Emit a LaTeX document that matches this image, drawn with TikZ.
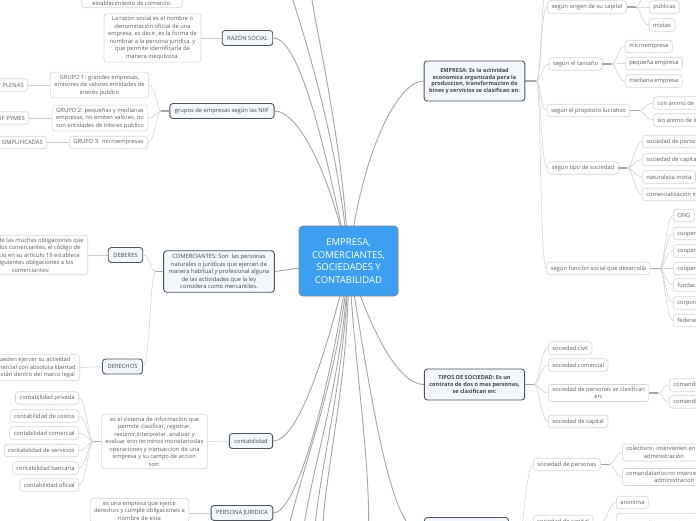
\documentclass[tikz,border=0pt]{standalone}
\usepackage{fontspec}
\setmainfont{Open Sans}
\usepackage{tikz}
\pgfdeclarelayer{back}
\pgfsetlayers{back,main}

\definecolor{rootfill}{HTML}{3C9FF0}
\definecolor{rootline}{HTML}{7C8894}
\definecolor{topicfill}{HTML}{F2F7FD}
\definecolor{topicline}{HTML}{4E545A}
\definecolor{leafline}{HTML}{D4D4D4}
\definecolor{inktext}{HTML}{474747}
\definecolor{leaftext}{HTML}{5E5E5E}
\definecolor{linkgray}{HTML}{A6A6A6}
\definecolor{twiggray}{HTML}{CDCDCD}

\tikzset{
  root/.style={draw=rootline, line width=0.8pt, fill=rootfill, rounded corners=4pt,
    text=white, align=center, font=\fontsize{9.5}{12.7}\selectfont,
    minimum width=99pt, minimum height=70pt, inner sep=0pt},
  topic/.style={draw=topicline, line width=0.9pt, fill=topicfill, rounded corners=3pt,
    text=inktext, align=center, font=\fontsize{5.8}{7.5}\selectfont,
    minimum height=15pt, inner xsep=5pt, inner ysep=3.5pt},
  bold topic/.style={topic, font=\fontsize{5.6}{6.8}\selectfont\bfseries,
    minimum width=99pt},
  leaf/.style={draw=leafline, line width=0.6pt, fill=white, rounded corners=3pt,
    text=leaftext, align=center, font=\fontsize{5.8}{7.5}\selectfont,
    minimum height=12.5pt, inner xsep=4pt, inner ysep=2.5pt},
  link/.style={draw=linkgray, line width=0.9pt},
  twig/.style={draw=twiggray, line width=0.5pt},
  stub/.style={draw=linkgray, line width=1.3pt},
  fan right/.style={out=0, in=180, out distance=5pt, in distance=7pt},
  fan left/.style={out=180, in=0, out distance=5pt, in distance=7pt}
}

\begin{document}
\begin{tikzpicture}[x=1pt, y=-1pt]
\useasboundingbox (0,0) rectangle (696,520);
\begin{pgfonlayer}{back}
  \fill[white] (0,0) rectangle (696,520);
\end{pgfonlayer}
\clip (0,0) rectangle (696,520);

% central topic
\node[root] (root) at (348.5,261) {EMPRESA,\\COMERCIANTES,\\SOCIEDADES Y\\CONTABILIDAD};

% ---- left side
\node[leaf, anchor=south, minimum width=100pt] (estab) at (132,8) {\strut\\ \strut\\ establecimiento de comercio.};

\node[topic] (razon) at (247.5,38) {RAZÓN SOCIAL};
\node[leaf] (razonTxt) at (152.5,38) {La razón social es el nombre o\\denominación oficial de una\\empresa, es decir, es la forma de\\nombrar a la persona jurídica, y\\que permite identificarla de\\manera inequívoca.};

\node[topic] (grupos) at (222,111) {grupos de empresas según las NIIF};
\node[leaf] (g1) at (99.5,85) {GRUPO 1: grandes empresas,\\emisores de valores entidades de\\interés publico};
\node[leaf] (g2) at (100,118) {GRUPO 2: pequeñas y medianas\\empresas, no emiten valores, no\\son entidades de interes publico};
\node[leaf] (g3) at (108.5,142.5) {GRUPO 3: microempresas};
\node[leaf, anchor=east] (niif1) at (28,85) {NIIF PLENAS};
\node[leaf, anchor=east] (niif2) at (29,118) {NIIF PYMES};
\node[leaf, anchor=east] (niif3) at (47,142.5) {NIIF SIMPLIFICADAS};

\node[topic] (comer) at (219,271.5) {COMERCIANTES: Son \ las personas\\naturales o jurídicas que ejercen de\\manera habitual y profesional alguna\\de las actividades que la ley\\considera como mercantiles.};
\node[topic] (deberes) at (125.5,255) {DEBERES};
\node[leaf, anchor=east] (deberesTxt) at (88,255) {Dentro de las muchas obligaciones que\\tienen los comerciantes, el código de\\comercio en su artículo 19 establece\\las siguientes obligaciones a los\\comerciantes:};
\node[topic] (derechos) at (122.5,366.5) {DERECHOS};
\node[leaf, anchor=east] (derechosTxt) at (80,367.5) {Pueden ejercer su actividad\\comercial con absoluta libertad\\si están dentro del marco legal};

\node[topic] (conta) at (251,441) {contabilidad};
\node[leaf] (contaTxt) at (154.5,441.5) {es el sistema de informacion que\\permite clasificar, registrar,\\resumir,interpretar, analizar y\\evaluar enn terminos monetarioslas\\operaciones y transaccion de una\\empresa y su campo de accion\\son:};
\foreach \name/\y/\txt in {cPriv/398/contabilidad privada, cCost/416/contabilidad de costos,
    cCom/433/contabilidad comercial, cServ/450.5/contabilidad de servicios,
    cBanc/468/contabilidad bancaria, cOfic/485/contabilidad oficial}
  \node[leaf, anchor=east] (\name) at (79,\y) {\txt};

\node[topic] (persona) at (242,513) {PERSONA JURIDICA};
\node[leaf, anchor=north] (personaTxt) at (139.5,498) {es una empresa que ejerce\\derechos y cumple obligaciones a\\nombre de esta};

% ---- right side
\node[bold topic, minimum height=40pt] (empresa) at (474.5,81) {EMPRESA: Es la actividad\\economica organizada para la\\produccion, transformacion de\\bines y servicios se clasifican en:};
\node[leaf] (origen) at (587,7) {según origen de su capital};
\node[leaf] (publicas) at (664.5,7) {publicas};
\node[leaf] (mixtas) at (662,25) {mixtas};
\node[leaf] (tamano) at (575.5,64) {según el tamaño};
\node[leaf, anchor=west] (micro) at (625,46.5) {microempresa};
\node[leaf, anchor=west] (pequena) at (625,63.5) {pequeña empresa};
\node[leaf, anchor=west] (mediana) at (625,81) {mediana empresa};
\node[leaf] (proposito) at (588.5,110.5) {según el propósito lucrativo};
\node[leaf, anchor=west] (conAnimo) at (653,103) {con animo de lucro};
\node[leaf, anchor=west] (sinAnimo) at (653,120) {sin animo de lucro};
\node[leaf] (tipo) at (583,168) {según tipo de sociedad};
\foreach \name/\y/\txt in {tPer/141.5/sociedad de personas, tCap/159.5/sociedad de capital,
    tMix/177/naturaleza mixta, tInt/194.5/comercialización internacional}
  \node[leaf, anchor=west] (\name) at (642,\y) {\txt};
\node[leaf] (funcion) at (598.5,268.5) {según función social que desarrolla};
\foreach \name/\y/\txt in {fOng/215.5/ONG, fCoopA/233.5/cooperativas de trabajo asociado,
    fCoopB/251/cooperativas multiactivas, fCoopC/268.5/cooperativas de ahorro y crédito,
    fFund/285/fundaciones, fCorp/303/corporaciones, fFed/320.5/federaciones}
  \node[leaf, anchor=west] (\name) at (673,\y) {\txt};

\node[bold topic, minimum height=31pt] (tipos) at (474.5,384.5) {TIPOS DE SOCIEDAD: Es un\\contrato de dos o mas personas,\\se clasifican en:};
\node[leaf, anchor=west] (civil) at (548,348) {sociedad civil};
\node[leaf, anchor=west] (comercial) at (548,365) {sociedad comercial};
\node[leaf, anchor=west] (sPer) at (548,393) {sociedad de personas se clasifican\\en:};
\node[leaf, anchor=west] (sCap) at (548,421.5) {sociedad de capital};
\node[leaf, anchor=west] (comSimple) at (669,385) {comanditaria simple};
\node[leaf, anchor=west] (comAcc) at (669,402) {comanditaria por acciones};

\node[topic, anchor=north west, minimum width=84pt, minimum height=34pt] (clases) at (424,517) {};
\node[leaf, anchor=west] (bPer) at (533,464.5) {sociedad de personas};
\node[leaf, anchor=west] (colect) at (622,452.5) {colectivos: intervienen en la\\administración};
\node[leaf, anchor=west] (comand) at (622,477) {comandatarios:no intervienen en la\\administracion};
\node[leaf, anchor=west] (bCap) at (533,521.5) {sociedad de capital};
\node[leaf, anchor=west] (anonima) at (616,502.5) {anonima};
\node[leaf, anchor=north west, minimum height=22pt] (enComand) at (616,513) {en comandita por acciones};

% free ends outside the frame
\coordinate (upA) at (289,-12);
\coordinate (upB) at (310,-12);
\coordinate (downA) at (286,540);
\coordinate (downB) at (302,540);
\coordinate (downC) at (314,540);
\coordinate (downD) at (322,540);
\coordinate (downE) at (368,545);
\coordinate (eTop) at (549,-30);
\coordinate (oTop) at (650,-12);

\begin{pgfonlayer}{back}
% branches of the central topic
\draw[link] (root.center) .. controls (326,150) and (300,38) .. (razon.east);
\draw[link] (root.center) .. controls (332,180) and (300,111) .. (grupos.east);
\draw[link] (root.center) .. controls (340,150) and (306,40) .. (upA);
\draw[link] (root.center) .. controls (344,150) and (318,40) .. (upB);
\draw[link] (root.center) -- (comer.east);
\draw[link] (root.center) .. controls (330,340) and (300,441) .. (conta.east);
\draw[link] (root.center) .. controls (336,360) and (300,513) .. (persona.east);
\draw[link] (root.center) .. controls (340,380) and (300,470) .. (downA);
\draw[link] (root.center) .. controls (344,380) and (310,470) .. (downB);
\draw[link] (root.center) .. controls (346,380) and (318,470) .. (downC);
\draw[link] (root.center) .. controls (350,380) and (324,470) .. (downD);
\draw[link] (root.center) .. controls (356,380) and (372,470) .. (downE);
\draw[link] (root.center) .. controls (362,150) and (398,81) .. (empresa.west);
\draw[link] (root.center) .. controls (370,330) and (398,384.5) .. (tipos.west);
\draw[link] (root.center) .. controls (372,400) and (390,536) .. (clases.west);

% left sub-branches
\draw[link, draw=twiggray] (razon.west) -- (razonTxt.east);
\draw[stub] (grupos.west) -- ++(-8,0) coordinate (gHub);
\foreach \n in {g1,g2,g3} \draw[twig] (gHub) to[fan left] (\n.east);
\draw[twig] (g1.west) -- (niif1.east);
\draw[twig] (g2.west) -- (niif2.east);
\draw[twig] (g3.west) -- (niif3.east);
\draw[stub] (comer.west) -- ++(-8,0) coordinate (kHub);
\foreach \n in {deberes,derechos} \draw[twig] (kHub) to[fan left] (\n.east);
\draw[twig] (deberes.west) -- (deberesTxt.east);
\draw[twig] (derechos.west) -- (derechosTxt.east);
\draw[twig] (conta.west) -- (contaTxt.east);
\draw[stub] (contaTxt.west) -- ++(-8,0) coordinate (cHub);
\foreach \n in {cPriv,cCost,cCom,cServ,cBanc,cOfic} \draw[twig] (cHub) to[fan left] (\n.east);
\draw[twig] (persona.west) -- (personaTxt.east |- persona.west);

% right sub-branches
\draw[stub] (empresa.east) -- ++(11,0) coordinate (eHub);
\foreach \n in {eTop,origen.west,tamano.west,proposito.west,tipo.west,funcion.west}
  \draw[twig] (eHub) to[fan right] (\n);
\draw[stub] (origen.east) -- ++(9,0) coordinate (oHub);
\foreach \n in {oTop,publicas.west,mixtas.west} \draw[twig] (oHub) to[fan right] (\n);
\draw[stub] (tamano.east) -- ++(9,0) coordinate (sHub);
\foreach \n in {micro,pequena,mediana} \draw[twig] (sHub) to[fan right] (\n.west);
\draw[stub] (proposito.east) -- ++(9,0) coordinate (pHub);
\foreach \n in {conAnimo,sinAnimo} \draw[twig] (pHub) to[fan right] (\n.west);
\draw[stub] (tipo.east) -- ++(9,0) coordinate (tHub);
\foreach \n in {tPer,tCap,tMix,tInt} \draw[twig] (tHub) to[fan right] (\n.west);
\draw[stub] (funcion.east) -- ++(9,0) coordinate (fHub);
\foreach \n in {fOng,fCoopA,fCoopB,fCoopC,fFund,fCorp,fFed} \draw[twig] (fHub) to[fan right] (\n.west);
\draw[stub] (tipos.east) -- ++(9,0) coordinate (yHub);
\foreach \n in {civil,comercial,sPer,sCap} \draw[twig] (yHub) to[fan right] (\n.west);
\draw[stub] (sPer.east) -- ++(9,0) coordinate (spHub);
\foreach \n in {comSimple,comAcc} \draw[twig] (spHub) to[fan right] (\n.west);
\draw[stub] (clases.east) -- ++(10,0) coordinate (bHub);
\foreach \n in {bPer,bCap} \draw[twig] (bHub) to[fan right] (\n.west);
\draw[stub] (bPer.east) -- ++(9,0) coordinate (bpHub);
\foreach \n in {colect,comand} \draw[twig] (bpHub) to[fan right] (\n.west);
\draw[stub] (bCap.east) -- ++(9,0) coordinate (bcHub);
\foreach \n in {anonima,enComand} \draw[twig] (bcHub) to[fan right] (\n.west);
\end{pgfonlayer}
\end{tikzpicture}
\end{document}
